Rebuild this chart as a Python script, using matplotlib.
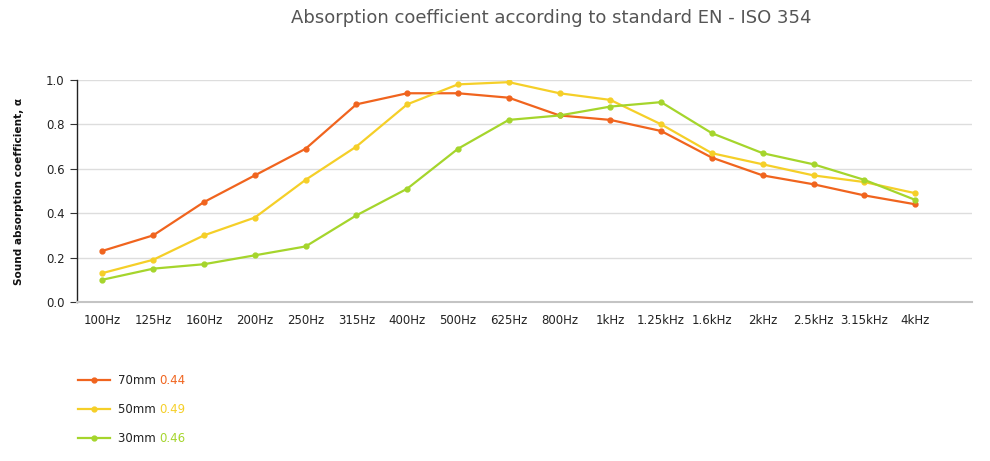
import matplotlib
matplotlib.use("Agg")
import matplotlib.pyplot as plt
from matplotlib.lines import Line2D

categories = ["100Hz", "125Hz", "160Hz", "200Hz", "250Hz", "315Hz", "400Hz", "500Hz",
              "625Hz", "800Hz", "1kHz", "1.25kHz", "1.6kHz", "2kHz", "2.5kHz", "3.15kHz", "4kHz"]
series_names = ["70mm", "50mm", "30mm"]
s70 = [0.23, 0.30, 0.45, 0.57, 0.69, 0.89, 0.94, 0.94, 0.92, 0.84, 0.82, 0.77, 0.65, 0.57, 0.53, 0.48, 0.44]
s50 = [0.13, 0.19, 0.30, 0.38, 0.55, 0.70, 0.89, 0.98, 0.99, 0.94, 0.91, 0.80, 0.67, 0.62, 0.57, 0.54, 0.49]
s30 = [0.10, 0.15, 0.17, 0.21, 0.25, 0.39, 0.51, 0.69, 0.82, 0.84, 0.88, 0.90, 0.76, 0.67, 0.62, 0.55, 0.46]
series = [s70, s50, s30]
colors = ["#F0641E", "#F5CF28", "#A5D52C"]
yticks = [0.0, 0.2, 0.4, 0.6, 0.8, 1.0]

fig = plt.figure(figsize=(9.9, 4.61), dpi=100)
ax = fig.add_axes([0.0778, 0.345, 0.904, 0.4816])
x = list(range(len(categories)))
for vals, c in zip(series, colors):
    ax.plot(x, vals, color=c, lw=1.6, marker="o", ms=3.5, zorder=3)

ax.set_xlim(-0.5, 17.12)
ax.set_ylim(0, 1.0)
ax.set_xticks(x)
ax.set_xticklabels(categories, fontsize=8.5, color="#222222")
ax.set_yticks(yticks)
ax.set_yticklabels([f"{v:.1f}" for v in yticks], fontsize=8.5, color="#222222")
ax.tick_params(axis="x", length=0, pad=9)
ax.tick_params(axis="y", length=5, width=0.8, color="#333333", pad=4)
ax.grid(axis="y", color="#dddddd", lw=1, zorder=0)
ax.set_axisbelow(True)
for s in ["top", "right"]:
    ax.spines[s].set_visible(False)
ax.spines["left"].set_color("#222222")
ax.spines["left"].set_linewidth(1)
ax.spines["bottom"].set_color("#c4c4c4")
ax.spines["bottom"].set_linewidth(1.5)
ax.set_ylabel("Sound absorption coefficient, α", fontsize=7.6, fontweight="bold", labelpad=16, color="#111111")

fig.text(0.557, 0.962, "Absorption coefficient according to standard EN - ISO 354",
         ha="center", va="center", fontsize=13, color="#555555")

# legend
leg_y = [380, 409, 438]
for name, vals, c, yy in zip(series_names, series, colors, leg_y):
    fy = 1 - yy / 461
    fig.add_artist(Line2D([78 / 990, 110 / 990], [fy, fy], color=c, lw=1.6,
                          transform=fig.transFigure))
    fig.add_artist(Line2D([94 / 990], [fy], color=c, marker="o", ms=3.5,
                          transform=fig.transFigure))
    t = fig.text(118 / 990, fy, name + " ", ha="left", va="center", fontsize=8.5, color="#222222")
    fig.canvas.draw()
    bb = t.get_window_extent()
    fig.text(bb.x1 / 990, fy, f"{vals[-1]:.2f}", ha="left", va="center", fontsize=8.5, color=c)

fig.savefig("out.png", dpi=100)
